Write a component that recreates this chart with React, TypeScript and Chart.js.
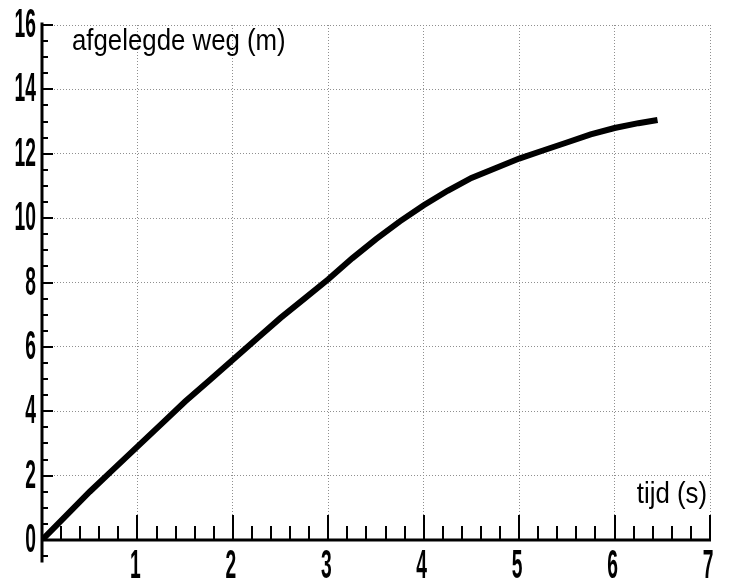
import React, { useEffect, useRef } from "react";
import { Chart, registerables } from "chart.js";

Chart.register(...registerables);

// time (s)
const times = [0, 0.25, 0.5, 0.75, 1, 1.25, 1.5, 1.75, 2, 2.25, 2.5, 2.75, 3, 3.25, 3.5, 3.75, 4, 4.25, 4.5, 4.75, 5, 5.25, 5.5, 5.75, 6, 6.25, 6.45];
// distance travelled (m)
const distances = [0, 0.75, 1.5, 2.2, 2.9, 3.6, 4.3, 4.95, 5.6, 6.25, 6.9, 7.5, 8.1, 8.75, 9.35, 9.9, 10.4, 10.85, 11.25, 11.55, 11.85, 12.1, 12.35, 12.6, 12.8, 12.95, 13.05];

const xMin = 0;
const xMax = 7;
const yMin = 0;
const yMax = 16;
const xMinorStep = 0.2;
const yMinorStep = 0.5;
const yAxisTitle = "afgelegde weg (m)";
const xAxisTitle = "tijd (s)";

const FONT = "'Liberation Sans', Arial, 'DejaVu Sans', sans-serif";

function drawScaledText(ctx: any, text: string, x: number, y: number, align: string, sx: number, font: string) {
  ctx.save();
  ctx.translate(x, y);
  ctx.scale(sx, 1);
  ctx.font = font;
  ctx.textAlign = align;
  ctx.textBaseline = "alphabetic";
  ctx.fillText(text, 0, 0);
  ctx.restore();
}

const axesPlugin = {
  id: "customAxes",
  afterDatasetsDraw(chart: any) {
    const { ctx, scales, chartArea } = chart;
    const x = scales.x;
    const y = scales.y;
    const x0 = x.getPixelForValue(0);
    const y0 = y.getPixelForValue(0);
    ctx.save();
    ctx.strokeStyle = "#000";
    ctx.lineCap = "butt";
    // axis lines
    ctx.lineWidth = 3;
    ctx.beginPath();
    ctx.moveTo(x0, y.getPixelForValue(yMax + 0.08));
    ctx.lineTo(x0, y.getPixelForValue(-0.7));
    ctx.moveTo(x0 - 1, y0);
    ctx.lineTo(x.getPixelForValue(xMax) + 1, y0);
    ctx.stroke();
    // x ticks (inward, upward)
    ctx.lineWidth = 2;
    ctx.beginPath();
    const nx = Math.round((xMax - xMin) / xMinorStep);
    for (let i = 1; i <= nx; i++) {
      const v = xMin + i * xMinorStep;
      const major = i % 5 === 0;
      const px = Math.round(x.getPixelForValue(v));
      ctx.moveTo(px, y0);
      ctx.lineTo(px, y0 - (major ? 25 : 14));
    }
    // y ticks (inward, rightward)
    const ny = Math.round((yMax + 0.5) / yMinorStep);
    for (let i = 0; i <= ny; i++) {
      const v = -0.5 + i * yMinorStep;
      const major = Math.abs(v / 2 - Math.round(v / 2)) < 1e-6;
      const py = Math.round(y.getPixelForValue(v));
      ctx.moveTo(x0, py);
      ctx.lineTo(x0 + (major ? 11 : 6), py);
    }
    ctx.stroke();

    ctx.fillStyle = "#000";
    const tickFont = `bold 41px ${FONT}`;
    // y tick labels
    y.ticks.forEach((t: any) => {
      const py = y.getPixelForValue(t.value);
      drawScaledText(ctx, String(t.value), x0 - 6, py + 12, "right", 0.47, tickFont);
    });
    // x tick labels
    x.ticks.forEach((t: any) => {
      if (t.value === 0) return;
      const px = x.getPixelForValue(t.value);
      drawScaledText(ctx, String(t.value), px - 2, y0 + 38, "center", 0.47, tickFont);
    });
    // axis titles
    const titleFont = `30px ${FONT}`;
    drawScaledText(ctx, yAxisTitle, chartArea.left + 30, chartArea.top + 25, "left", 0.86, titleFont);
    drawScaledText(ctx, xAxisTitle, chartArea.right - 3, y0 - 37, "right", 0.86, titleFont);
    ctx.restore();
  },
};

export default function App() {
  const canvasRef = useRef<HTMLCanvasElement | null>(null);

  useEffect(() => {
    if (!canvasRef.current) return;
    const points = times.map((t, i) => ({ x: t, y: distances[i] }));
    const chart = new Chart(canvasRef.current, {
      type: "line",
      data: {
        datasets: [
          {
            data: points,
            borderColor: "#000",
            borderWidth: 6,
            pointRadius: 0,
            tension: 0,
            fill: false,
          },
        ],
      },
      options: {
        animation: false,
        responsive: false,
        maintainAspectRatio: false,
        layout: { padding: { left: 0, right: 24, top: 25, bottom: 0 } },
        plugins: {
          legend: { display: false },
          tooltip: { enabled: false },
        },
        scales: {
          x: {
            type: "linear",
            min: xMin,
            max: xMax,
            afterFit: (scale: any) => {
              scale.height = 41;
            },
            ticks: {
              stepSize: 1,
              display: false,
            },
            grid: {
              drawTicks: false,
              color: (c: any) => (c.tick && c.tick.value === 0 ? "rgba(0,0,0,0)" : "#8f8f8f"),
              lineWidth: 1,
            },
            border: { display: false, dash: [1, 2] },
          },
          y: {
            type: "linear",
            min: yMin,
            max: yMax,
            afterFit: (scale: any) => {
              scale.width = 42;
            },
            ticks: {
              stepSize: 2,
              display: false,
            },
            grid: {
              drawTicks: false,
              color: (c: any) => (c.tick && c.tick.value === 0 ? "rgba(0,0,0,0)" : "#8f8f8f"),
              lineWidth: 1,
            },
            border: { display: false, dash: [1, 2] },
          },
        },
      },
      plugins: [axesPlugin],
    });
    return () => chart.destroy();
  }, []);

  return (
    <div style={{ position: "fixed", left: 0, top: 0, width: 734, height: 581, background: "#fff" }}>
      <canvas ref={canvasRef} width={734} height={581} style={{ width: 734, height: 581, display: "block" }} />
    </div>
  );
}
